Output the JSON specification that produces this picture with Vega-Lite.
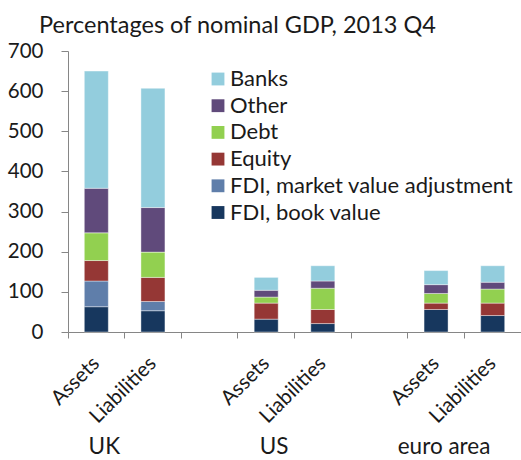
{
  "$schema": "https://vega.github.io/schema/vega-lite/v6.json",
  "autosize": "none",
  "width": 453,
  "height": 281,
  "padding": {"left": 68, "top": 51, "right": 0, "bottom": 128},
  "background": "white",
  "config": {
    "font": "Lato",
    "view": {"stroke": null}
  },
  "title": {
    "text": "Percentages of nominal GDP, 2013 Q4",
    "anchor": "start",
    "frame": "group",
    "dx": -29,
    "offset": 4,
    "fontSize": 23.5,
    "fontWeight": "normal",
    "color": "#1a1a1a",
    "font": "Lato"
  },
  "datasets": {
    "bars": [
      {"key": "UK_A", "component": "FDI, book value", "value": 63, "ord": 1},
      {"key": "UK_A", "component": "FDI, market value adjustment", "value": 64, "ord": 2},
      {"key": "UK_A", "component": "Equity", "value": 51, "ord": 3},
      {"key": "UK_A", "component": "Debt", "value": 69, "ord": 4},
      {"key": "UK_A", "component": "Other", "value": 111, "ord": 5},
      {"key": "UK_A", "component": "Banks", "value": 292, "ord": 6},
      {"key": "UK_L", "component": "FDI, book value", "value": 53, "ord": 1},
      {"key": "UK_L", "component": "FDI, market value adjustment", "value": 23, "ord": 2},
      {"key": "UK_L", "component": "Equity", "value": 60, "ord": 3},
      {"key": "UK_L", "component": "Debt", "value": 63, "ord": 4},
      {"key": "UK_L", "component": "Other", "value": 111, "ord": 5},
      {"key": "UK_L", "component": "Banks", "value": 297, "ord": 6},
      {"key": "US_A", "component": "FDI, book value", "value": 32, "ord": 1},
      {"key": "US_A", "component": "Equity", "value": 40, "ord": 3},
      {"key": "US_A", "component": "Debt", "value": 15, "ord": 4},
      {"key": "US_A", "component": "Other", "value": 17, "ord": 5},
      {"key": "US_A", "component": "Banks", "value": 32, "ord": 6},
      {"key": "US_L", "component": "FDI, book value", "value": 21, "ord": 1},
      {"key": "US_L", "component": "Equity", "value": 35, "ord": 3},
      {"key": "US_L", "component": "Debt", "value": 53, "ord": 4},
      {"key": "US_L", "component": "Other", "value": 18, "ord": 5},
      {"key": "US_L", "component": "Banks", "value": 38, "ord": 6},
      {"key": "EA_A", "component": "FDI, book value", "value": 56, "ord": 1},
      {"key": "EA_A", "component": "Equity", "value": 16, "ord": 3},
      {"key": "EA_A", "component": "Debt", "value": 24, "ord": 4},
      {"key": "EA_A", "component": "Other", "value": 22, "ord": 5},
      {"key": "EA_A", "component": "Banks", "value": 35, "ord": 6},
      {"key": "EA_L", "component": "FDI, book value", "value": 41, "ord": 1},
      {"key": "EA_L", "component": "Equity", "value": 31, "ord": 3},
      {"key": "EA_L", "component": "Debt", "value": 35, "ord": 4},
      {"key": "EA_L", "component": "Other", "value": 17, "ord": 5},
      {"key": "EA_L", "component": "Banks", "value": 41, "ord": 6}
    ],
    "groups": [
      {"key": "UK_A", "label": "UK"},
      {"key": "US_A", "label": "US"},
      {"key": "EA_A", "label": "euro area"}
    ]
  },
  "layer": [
    {
      "data": {"name": "bars"},
      "mark": {"type": "bar", "size": 24, "stroke": "white", "strokeWidth": 0.4},
      "encoding": {
        "x": {
          "field": "key",
          "type": "nominal",
          "sort": null,
          "scale": {"domain": ["UK_A", "UK_L", "gap1", "US_A", "US_L", "gap2", "EA_A", "EA_L"], "paddingInner": 0, "paddingOuter": 0},
          "axis": {
            "title": null,
            "bandPosition": 0,
            "labelOffset": -7,
            "labelExpr": "indexof(datum.value, '_A') > 0 ? 'Assets' : (indexof(datum.value, '_L') > 0 ? 'Liabilities' : '')",
            "labelAngle": -45,
            "labelFontSize": 20.5,
            "labelColor": "#1a1a1a",
            "labelPadding": 15,
            "domainColor": "#868686",
            "tickColor": "#868686",
            "tickSize": 6,
            "grid": false
          }
        },
        "y": {
          "field": "value",
          "type": "quantitative",
          "stack": "zero",
          "scale": {"domain": [0, 700], "nice": false},
          "axis": {
            "title": null,
            "values": [0, 100, 200, 300, 400, 500, 600, 700],
            "grid": false,
            "labelFontSize": 20.5,
            "labelColor": "#1a1a1a",
            "labelPadding": 18,
            "domainColor": "#868686",
            "tickColor": "#868686",
            "tickSize": 7
          }
        },
        "order": {"field": "ord", "type": "quantitative"},
        "color": {
          "field": "component",
          "type": "nominal",
          "scale": {
            "domain": ["Banks", "Other", "Debt", "Equity", "FDI, market value adjustment", "FDI, book value"],
            "range": ["#93cddd", "#604a7b", "#92d050", "#953735", "#5f7eaa", "#17375e"]
          },
          "legend": {
            "title": null,
            "orient": "none",
            "legendX": 139,
            "legendY": 17,
            "padding": 0,
            "symbolType": "square",
            "symbolSize": 165,
            "symbolStrokeWidth": 0,
            "labelFontSize": 22,
            "labelColor": "#1a1a1a",
            "labelOffset": 1,
            "rowPadding": 4.7,
            "labelLimit": 400
          }
        }
      }
    },
    {
      "data": {"name": "groups"},
      "mark": {"type": "text", "fontSize": 22.5, "color": "#1a1a1a", "align": "center", "baseline": "middle", "dx": 8, "dy": 115},
      "encoding": {
        "x": {"field": "key", "type": "nominal", "sort": null},
        "y": {"datum": 0},
        "text": {"field": "label"}
      }
    }
  ]
}
